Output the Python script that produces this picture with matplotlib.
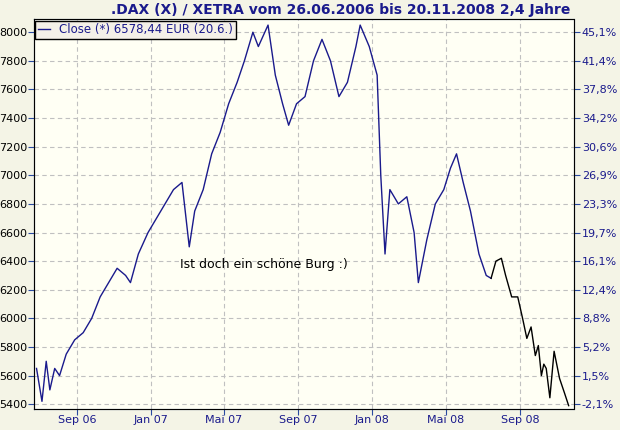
import matplotlib
matplotlib.use("Agg")
import matplotlib.pyplot as plt
import pandas as pd

# DAX close (approx.)
dates = ["2006-06-26", "2006-07-05", "2006-07-12", "2006-07-18", "2006-07-26", "2006-08-03", "2006-08-14",
         "2006-08-28", "2006-09-11", "2006-09-25", "2006-10-09", "2006-10-23", "2006-11-06", "2006-11-20",
         "2006-11-28", "2006-12-11", "2006-12-27", "2007-01-10", "2007-01-24", "2007-02-07", "2007-02-21",
         "2007-03-05", "2007-03-14", "2007-03-28", "2007-04-11", "2007-04-25", "2007-05-09", "2007-05-23",
         "2007-06-04", "2007-06-18", "2007-06-27", "2007-07-13", "2007-07-25", "2007-08-06", "2007-08-16",
         "2007-08-29", "2007-09-12", "2007-09-26", "2007-10-10", "2007-10-24", "2007-11-07", "2007-11-21",
         "2007-12-05", "2007-12-12", "2007-12-27", "2008-01-09", "2008-01-15", "2008-01-22", "2008-01-30",
         "2008-02-13", "2008-02-27", "2008-03-10", "2008-03-17", "2008-03-31", "2008-04-14", "2008-04-28",
         "2008-05-09", "2008-05-19", "2008-05-30", "2008-06-11", "2008-06-25", "2008-07-07", "2008-07-15",
         "2008-07-23", "2008-08-01", "2008-08-08", "2008-08-18", "2008-08-28", "2008-09-05", "2008-09-12",
         "2008-09-19", "2008-09-26", "2008-10-01", "2008-10-06", "2008-10-10", "2008-10-14", "2008-10-20",
         "2008-10-27", "2008-11-05", "2008-11-13", "2008-11-20"]
close = [5650, 5420, 5700, 5500, 5650, 5600, 5750,
         5850, 5900, 6000, 6150, 6250, 6350, 6300,
         6250, 6450, 6600, 6700, 6800, 6900, 6950,
         6500, 6750, 6900, 7150, 7300, 7500, 7650,
         7800, 8000, 7900, 8050, 7700, 7500, 7350,
         7500, 7550, 7800, 7950, 7800, 7550, 7650,
         7900, 8050, 7900, 7700, 7000, 6450, 6900,
         6800, 6850, 6600, 6250, 6550, 6800, 6900,
         7050, 7150, 6950, 6750, 6450, 6300, 6280,
         6400, 6420, 6300, 6150, 6150, 6000, 5860,
         5940, 5740, 5810, 5600, 5680, 5650, 5445,
         5770, 5580, 5480, 5390]
left_ticks = list(range(5400, 8001, 200))
right_labels = ["-2,1%", "1,5%", "5,2%", "8,8%", "12,4%", "16,1%", "19,7%", "23,3%",
                "26,9%", "30,6%", "34,2%", "37,8%", "41,4%", "45,1%"]
x_ticks = ["2006-09-01", "2007-01-01", "2007-05-01", "2007-09-01", "2008-01-01", "2008-05-01", "2008-09-01"]
x_labels = ["Sep 06", "Jan 07", "Mai 07", "Sep 07", "Jan 08", "Mai 08", "Sep 08"]

navy = "#1a1a8c"
df = pd.DataFrame({"date": pd.to_datetime(dates), "close": close})
split = 63

fig = plt.figure(figsize=(6.2, 4.3), dpi=100, facecolor="#f4f4e6")
ax = fig.add_axes([0.055, 0.05, 0.87, 0.905], facecolor="#fffff4")
ax.plot(df["date"][:split], df["close"][:split], color=navy, lw=1)
ax.plot(df["date"][split - 1:], df["close"][split - 1:], color="black", lw=1)

ax.set_ylim(5370, 8090)
ax.set_xlim(pd.Timestamp("2006-06-22"), pd.Timestamp("2008-11-28"))
ax.set_yticks(left_ticks)
ax.set_yticklabels([str(v) for v in left_ticks], fontsize=8)
ax.set_xticks(pd.to_datetime(x_ticks))
ax.set_xticklabels(x_labels, fontsize=8)
ax.grid(True, color="#c0c0c0", ls=(0, (4, 3)), lw=0.8)
for s in ax.spines.values():
    s.set_color("#2a4aa0")
ax.tick_params(colors="#2a4aa0", labelcolor=navy, length=4, pad=1)
ax.tick_params(axis="y", labelcolor="black")

ax2 = ax.twinx()
ax2.set_ylim(ax.get_ylim())
ax2.set_yticks(left_ticks)
ax2.set_yticklabels(right_labels, fontsize=8)
ax2.tick_params(colors="#2a4aa0", labelcolor=navy, length=4, pad=2)

fig.text(0.55, 0.977, ".DAX (X) / XETRA vom 26.06.2006 bis 20.11.2008 2,4 Jahre",
         ha="center", va="center", fontsize=10, fontweight="bold", color=navy)
ax.text(0.27, 0.36, "Ist doch ein schöne Burg :)", transform=ax.transAxes, fontsize=9)
leg = ax.legend(["Close (*) 6578,44 EUR (20.6.)"], loc="upper left", fontsize=8.5,
                handlelength=1, borderaxespad=0.1, fancybox=False, framealpha=1,
                borderpad=0.25)
leg.get_frame().set_edgecolor("black")
leg.get_frame().set_facecolor("#f4f0e8")
for t in leg.get_texts():
    t.set_color(navy)

fig.savefig("out.png", dpi=100, facecolor=fig.get_facecolor())
